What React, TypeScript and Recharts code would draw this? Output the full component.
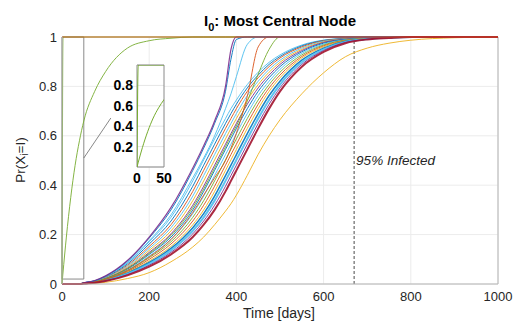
import {
  LineChart,
  Line,
  XAxis,
  YAxis,
  CartesianGrid,
  ReferenceLine,
  ReferenceArea,
} from "recharts";

// MATLAB default colour order
const BLUE = "#0072BD";
const ORANGE = "#D95319";
const YELLOW = "#EDB120";
const PURPLE = "#7E2F8E";
const GREEN = "#77AC30";
const CYAN = "#4DBEEE";
const WINE = "#A2142F";

const days = [0, 2, 10, 20, 30, 40, 50, 75, 100, 150, 200, 250, 300, 325, 350, 375, 387.5, 400, 425, 450, 475, 500, 550, 600, 650, 700, 750, 800, 900, 1000];

const xTicks = [0, 200, 400, 600, 800, 1000];
const yTicks = [0, 0.2, 0.4, 0.6, 0.8, 1];
const insetXTicks = [0, 50];
const insetYTicks = [0.2, 0.4, 0.6, 0.8];

// the seed node itself
const seedNode = [1, 1, 1, 1, 1, 1, 1, 1, 1, 1, 1, 1, 1, 1, 1, 1, 1, 1, 1, 1, 1, 1, 1, 1, 1, 1, 1, 1, 1, 1];
// direct neighbours
const nbrFast = [0, 1, 1, 1, 1, 1, 1, 1, 1, 1, 1, 1, 1, 1, 1, 1, 1, 1, 1, 1, 1, 1, 1, 1, 1, 1, 1, 1, 1, 1];
const nbrSlow = [0, 0.04, 0.19, 0.35, 0.48, 0.58, 0.66, 0.78, 0.86, 0.955, 0.985, 0.995, 1, 1, 1, 1, 1, 1, 1, 1, 1, 1, 1, 1, 1, 1, 1, 1, 1, 1];

// the rest of the network
const n01 = [0, 0, 0, 0, 0, 0, 0.005, 0.014, 0.033, 0.095, 0.19, 0.31, 0.47, 0.56, 0.66, 0.8, 0.95, 1, 1, 1, 1, 1, 1, 1, 1, 1, 1, 1, 1, 1];
const n02 = [0, 0, 0, 0, 0, 0, 0.005, 0.013, 0.032, 0.093, 0.186, 0.3, 0.46, 0.55, 0.65, 0.78, 0.91, 0.99, 1, 1, 1, 1, 1, 1, 1, 1, 1, 1, 1, 1];
const n03 = [0, 0, 0, 0, 0, 0, 0.005, 0.012, 0.03, 0.088, 0.175, 0.28, 0.43, 0.51, 0.6, 0.71, 0.77, 0.84, 0.97, 1, 1, 1, 1, 1, 1, 1, 1, 1, 1, 1];
const n04 = [0, 0, 0, 0, 0, 0, 0.005, 0.012, 0.029, 0.086, 0.171, 0.27, 0.4175, 0.5025, 0.5875, 0.67, 0.71, 0.745, 0.8075, 0.8575, 0.8975, 0.9275, 0.9675, 0.9875, 0.9945, 0.999, 1, 1, 1, 1];
const n05 = [0, 0, 0, 0, 0, 0, 0.005, 0.012, 0.028, 0.081, 0.162, 0.255, 0.396, 0.481, 0.566, 0.65, 0.69, 0.728, 0.794, 0.846, 0.889, 0.921, 0.964, 0.986, 0.994, 0.999, 1, 1, 1, 1];
const n06 = [0, 0, 0, 0, 0, 0, 0.004, 0.011, 0.026, 0.076, 0.152, 0.24, 0.375, 0.46, 0.545, 0.63, 0.67, 0.71, 0.78, 0.835, 0.88, 0.915, 0.96, 0.985, 0.993, 0.998, 1, 1, 1, 1];
const n07 = [0, 0, 0, 0, 0, 0, 0.004, 0.01, 0.025, 0.072, 0.144, 0.228, 0.356, 0.439, 0.524, 0.609, 0.65, 0.69, 0.763, 0.821, 0.869, 0.906, 0.955, 0.983, 0.992, 0.998, 1, 1, 1, 1];
const n08 = [0, 0, 0, 0, 0, 0, 0.004, 0.01, 0.023, 0.068, 0.136, 0.215, 0.3375, 0.4175, 0.5025, 0.5875, 0.63, 0.67, 0.745, 0.8075, 0.8575, 0.8975, 0.95, 0.98, 0.9915, 0.997, 1, 1, 1, 1];
const n09 = [0, 0, 0, 0, 0, 0, 0.004, 0.009, 0.022, 0.062, 0.124, 0.197, 0.31, 0.385, 0.47, 0.555, 0.6, 0.64, 0.74, 0.85, 0.95, 1, 1, 1, 1, 1, 1, 1, 1, 1];
const n10 = [0, 0, 0, 0, 0, 0, 0.004, 0.009, 0.022, 0.064, 0.128, 0.203, 0.319, 0.396, 0.481, 0.566, 0.609, 0.65, 0.728, 0.794, 0.846, 0.889, 0.945, 0.978, 0.991, 0.997, 1, 1, 1, 1];
const n11 = [0, 0, 0, 0, 0, 0, 0.003, 0.009, 0.021, 0.06, 0.12, 0.19, 0.3, 0.375, 0.46, 0.545, 0.5875, 0.63, 0.71, 0.78, 0.835, 0.88, 0.94, 0.975, 0.99, 0.996, 1, 1, 1, 1];
const n12 = [0, 0, 0, 0, 0, 0, 0.003, 0.008, 0.019, 0.056, 0.113, 0.181, 0.285, 0.356, 0.439, 0.524, 0.566, 0.609, 0.69, 0.763, 0.821, 0.869, 0.934, 0.971, 0.989, 0.995, 1, 1, 1, 1];
const n13 = [0, 0, 0, 0, 0, 0, 0.003, 0.008, 0.019, 0.055, 0.11, 0.18, 0.29, 0.36, 0.43, 0.5, 0.55, 0.61, 0.76, 0.96, 1, 1, 1, 1, 1, 1, 1, 1, 1, 1];
const n14 = [0, 0, 0, 0, 0, 0, 0.003, 0.008, 0.018, 0.053, 0.1065, 0.171, 0.27, 0.3375, 0.4175, 0.5025, 0.545, 0.5875, 0.67, 0.745, 0.8075, 0.8575, 0.9275, 0.9675, 0.9875, 0.9945, 0.999, 1, 1, 1];
const n15 = [0, 0, 0, 0, 0, 0, 0.003, 0.007, 0.017, 0.05, 0.1, 0.162, 0.255, 0.319, 0.396, 0.481, 0.524, 0.566, 0.65, 0.728, 0.794, 0.846, 0.921, 0.964, 0.986, 0.994, 0.999, 1, 1, 1];
const n16 = [0, 0, 0, 0, 0, 0, 0.003, 0.007, 0.016, 0.047, 0.093, 0.152, 0.24, 0.3, 0.375, 0.46, 0.5025, 0.545, 0.63, 0.71, 0.78, 0.835, 0.915, 0.96, 0.985, 0.993, 0.998, 1, 1, 1];
const n17 = [0, 0, 0, 0, 0, 0, 0.002, 0.006, 0.015, 0.044, 0.087, 0.144, 0.228, 0.285, 0.356, 0.439, 0.481, 0.524, 0.609, 0.69, 0.763, 0.821, 0.906, 0.955, 0.983, 0.992, 0.998, 1, 1, 1];
const n18 = [0, 0, 0, 0, 0, 0, 0.002, 0.006, 0.014, 0.041, 0.0815, 0.136, 0.215, 0.27, 0.3375, 0.4175, 0.46, 0.5025, 0.5875, 0.67, 0.745, 0.8075, 0.8975, 0.95, 0.98, 0.9915, 0.997, 1, 1, 1];
const n19 = [0, 0, 0, 0, 0, 0, 0.002, 0.005, 0.013, 0.038, 0.076, 0.128, 0.203, 0.255, 0.319, 0.396, 0.439, 0.481, 0.566, 0.65, 0.728, 0.794, 0.889, 0.945, 0.978, 0.991, 0.997, 1, 1, 1];
const n20 = [0, 0, 0, 0, 0, 0, 0.002, 0.005, 0.012, 0.035, 0.07, 0.12, 0.19, 0.24, 0.3, 0.375, 0.4175, 0.46, 0.545, 0.63, 0.71, 0.78, 0.88, 0.94, 0.975, 0.99, 0.996, 1, 1, 1];
const nLate = [0, 0, 0, 0, 0, 0, 0.001, 0.003, 0.007, 0.022, 0.046, 0.09, 0.15, 0.19, 0.24, 0.295, 0.325, 0.36, 0.44, 0.525, 0.6, 0.665, 0.77, 0.855, 0.92, 0.955, 0.975, 0.987, 0.997, 1];

const series = [
  { key: "nbrFast", values: nbrFast, color: GREEN, width: 1.2 },
  { key: "nbrSlow", values: nbrSlow, color: GREEN, width: 1 },
  { key: "n04", values: n04, color: CYAN, width: 1 },
  { key: "n05", values: n05, color: BLUE, width: 1 },
  { key: "n06", values: n06, color: ORANGE, width: 1 },
  { key: "n07", values: n07, color: CYAN, width: 1 },
  { key: "n08", values: n08, color: YELLOW, width: 1 },
  { key: "n10", values: n10, color: PURPLE, width: 1 },
  { key: "n11", values: n11, color: BLUE, width: 1 },
  { key: "n12", values: n12, color: CYAN, width: 1 },
  { key: "n14", values: n14, color: GREEN, width: 1 },
  { key: "n15", values: n15, color: ORANGE, width: 1 },
  { key: "n16", values: n16, color: YELLOW, width: 1 },
  { key: "n17", values: n17, color: BLUE, width: 1.5 },
  { key: "n18", values: n18, color: CYAN, width: 2 },
  { key: "n19", values: n19, color: PURPLE, width: 1 },
  { key: "n03", values: n03, color: CYAN, width: 1 },
  { key: "n09", values: n09, color: GREEN, width: 1 },
  { key: "n13", values: n13, color: ORANGE, width: 1 },
  { key: "n02", values: n02, color: BLUE, width: 1 },
  { key: "n01", values: n01, color: PURPLE, width: 1.2 },
  { key: "nLate", values: nLate, color: YELLOW, width: 1 },
  { key: "n20", values: n20, color: WINE, width: 2 },
  { key: "seedNode", values: seedNode, color: ORANGE, width: 2, opacity: 0.4 },
];

const rows = days.map((t, i) => {
  const row: Record<string, number> = { t };
  series.forEach((s) => {
    row[s.key] = s.values[i];
  });
  return row;
});

const insetSeries = series.filter((s) => s.key === "nbrFast" || s.key === "nbrSlow");

const FONT = '"Liberation Sans", Arial, Helvetica, sans-serif';
const AXIS = "#b4b4b4";
const TXT = "#262626";

export default function App() {
  return (
    <div
      style={{
        position: "fixed",
        left: 0,
        top: 0,
        width: 517,
        height: 323,
        background: "#fff",
        fontFamily: FONT,
      }}
    >
      <LineChart
        width={517}
        height={323}
        data={rows}
        margin={{ top: 37, right: 19, bottom: 0, left: 0 }}
      >
        <CartesianGrid stroke="#ececec" />
        <XAxis
          dataKey="t"
          type="number"
          domain={[0, 1000]}
          ticks={xTicks}
          interval={0}
          height={39}
          tickSize={0}
          tickMargin={8}
          tickLine={false}
          axisLine={{ stroke: AXIS }}
          tick={{ fill: TXT, fontSize: 13 }}
        />
        <YAxis
          type="number"
          domain={[0, 1]}
          ticks={yTicks}
          interval={0}
          width={62}
          tickSize={0}
          tickMargin={5}
          tickLine={false}
          axisLine={{ stroke: AXIS }}
          tick={{ fill: TXT, fontSize: 13 }}
          tickFormatter={(v: number) => String(v)}
        />
        <ReferenceLine x={1000} stroke={AXIS} />
        <ReferenceArea x1={0} x2={50} y1={0.02} y2={1} fill="none" stroke="#8a8a8a" />
        <ReferenceLine
          segment={[
            { x: 50, y: 0.51 },
            { x: 112, y: 0.672 },
          ]}
          stroke="#6a6a6a"
          strokeWidth={0.8}
          ifOverflow="visible"
        />
        <ReferenceLine
          x={670}
          stroke="#4a4a4a"
          strokeDasharray="3 2"
          label={{
            value: "95% Infected",
            position: "right",
            offset: 2,
            fill: TXT,
            fontSize: 13.5,
            fontStyle: "italic",
          }}
        />
        {series.map((s) => (
          <Line
            key={s.key}
            type="monotone"
            dataKey={s.key}
            stroke={s.color}
            strokeWidth={s.width}
            strokeOpacity={s.opacity ?? 0.9}
            dot={false}
            activeDot={false}
            isAnimationActive={false}
          />
        ))}
      </LineChart>

      <div style={{ position: "absolute", left: 95, top: 50, width: 85, height: 140 }}>
        <div
          style={{
            position: "absolute",
            left: 42,
            top: 15,
            width: 27,
            height: 102,
            background: "#fff",
          }}
        />
        <LineChart
          width={85}
          height={140}
          data={rows}
          margin={{ top: 15, right: 16, bottom: 0, left: 0 }}
        >
          <CartesianGrid stroke="#e6e6e6" vertical={false} />
          <XAxis
            dataKey="t"
            type="number"
            domain={[0, 50]}
            allowDataOverflow
            ticks={insetXTicks}
            interval={0}
            height={23}
            tickSize={0}
            tickMargin={6}
            tickLine={false}
            axisLine={false}
            tick={{ fill: "#000", fontSize: 14, fontWeight: "bold" }}
          />
          <YAxis
            type="number"
            domain={[0, 1]}
            allowDataOverflow
            ticks={insetYTicks}
            interval={0}
            width={42}
            tickSize={0}
            tickMargin={4}
            tickLine={false}
            axisLine={false}
            tick={{ fill: "#000", fontSize: 14, fontWeight: "bold" }}
            tickFormatter={(v: number) => String(v)}
          />
          <ReferenceArea x1={0} x2={50} y1={0} y2={1} fill="none" stroke="#8a8a8a" />
          {insetSeries.map((s) => (
            <Line
              key={s.key}
              type="monotone"
              dataKey={s.key}
              stroke={s.color}
              strokeWidth={s.width}
              dot={false}
              activeDot={false}
              isAnimationActive={false}
            />
          ))}
        </LineChart>
      </div>

      <svg
        width={517}
        height={323}
        style={{ position: "absolute", left: 0, top: 0, pointerEvents: "none" }}
      >
        <text x={280} y={26} textAnchor="middle" fontWeight="bold" fontSize={15} fill="#000">
          I<tspan fontSize={11} dy={5}>0</tspan>
          <tspan dy={-5}>: Most Central Node</tspan>
        </text>
        <text transform="translate(25,160) rotate(-90)" textAnchor="middle" fontSize={13.5} fill={TXT}>
          Pr(X<tspan fontSize={10} dy={3}>i</tspan>
          <tspan dy={-3}>=I)</tspan>
        </text>
        <text x={279} y={318} textAnchor="middle" fontSize={14} fill={TXT}>
          Time [days]
        </text>
      </svg>
    </div>
  );
}
